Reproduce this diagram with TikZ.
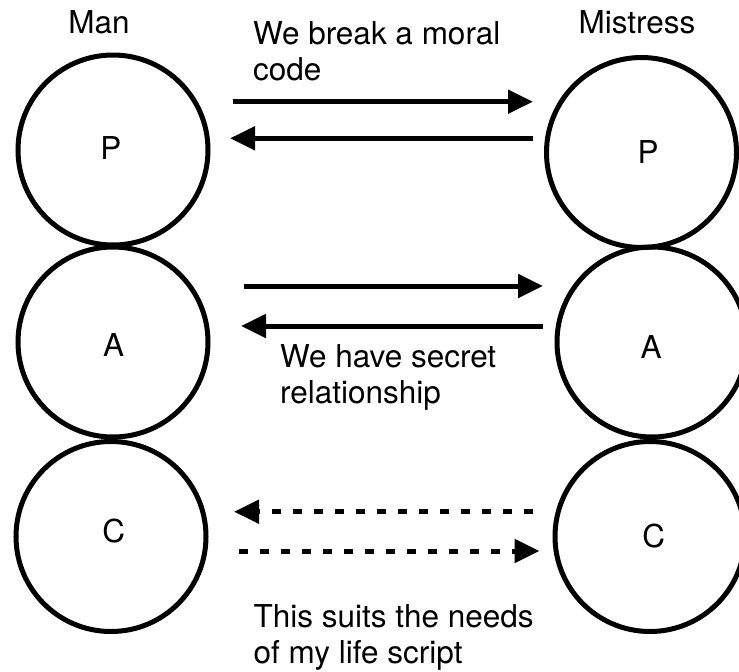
\documentclass[tikz,border=0pt]{standalone}
\usepackage{fontspec}
\setmainfont{TeX Gyre Heros}
\usetikzlibrary{arrows.meta}
\begin{document}
\begin{tikzpicture}[x=1pt,y=-1pt,
  every node/.style={font=\fontsize{31.5}{36}\selectfont},
  ring/.style={circle,draw,line width=5pt,minimum size=190pt,inner sep=0pt},
  letter/.style={inner sep=0pt,anchor=center},
  caption/.style={inner sep=0pt,align=left,anchor=base west},
  flow/.style={line width=5pt,-{Triangle[length=25pt,width=23pt]}},
  hint/.style={flow,dash pattern=on 9pt off 12pt}]
\useasboundingbox (0,0) rectangle (739,672);

% ego-state circles: Parent, Adult, Child
\node[ring] (mP) at (113,150) {};
\node[ring] (mA) at (113,342) {};
\node[ring] (mC) at (111,536.5) {};
\node[ring] (wP) at (641.5,152.5) {};
\node[ring] (wA) at (652,342) {};
\node[ring] (wC) at (650,536.5) {};

\node[letter] (mPl) at (111,148) {P};
\node[letter] (mAl) at (113.6,345) {A};
\node[letter] (mCl) at (113.8,531) {C};
\node[letter] (wPl) at (648,151.7) {P};
\node[letter] (wAl) at (651.2,346.7) {A};
\node[letter] (wCl) at (653.8,535.8) {C};

% column headings
\node[inner sep=0pt,anchor=base] (man) at (99,33) {Man};
\node[inner sep=0pt,anchor=base] (mis) at (637,33) {Mistress};

% transaction end points
\coordinate (p1) at (233,101.7);  \coordinate (p2) at (533,101.7);
\coordinate (p3) at (533,138.3);  \coordinate (p4) at (230,138.3);
\coordinate (a1) at (244,286);    \coordinate (a2) at (543,286);
\coordinate (a3) at (543,326);    \coordinate (a4) at (241,326);
\coordinate (c1) at (532.5,511.7);\coordinate (c2) at (234,511.7);
\coordinate (c3) at (239.4,551);  \coordinate (c4) at (539.5,551);

\draw[flow] (p1) -- (p2);
\draw[flow] (p3) -- (p4);
\draw[flow] (a1) -- (a2);
\draw[flow] (a3) -- (a4);
\draw[hint] (c1) -- (c2);
\draw[hint] (c3) -- (c4);

% transaction captions (anchored on the baseline of their last line)
\node[caption] (t1) at (253,80) {We break a moral\\code};
\node[caption] (t2) at (280,403.7) {We have secret\\relationship};
\node[caption] (t3) at (253.5,663.5) {This suits the needs\\of my life script};
\end{tikzpicture}
\end{document}
